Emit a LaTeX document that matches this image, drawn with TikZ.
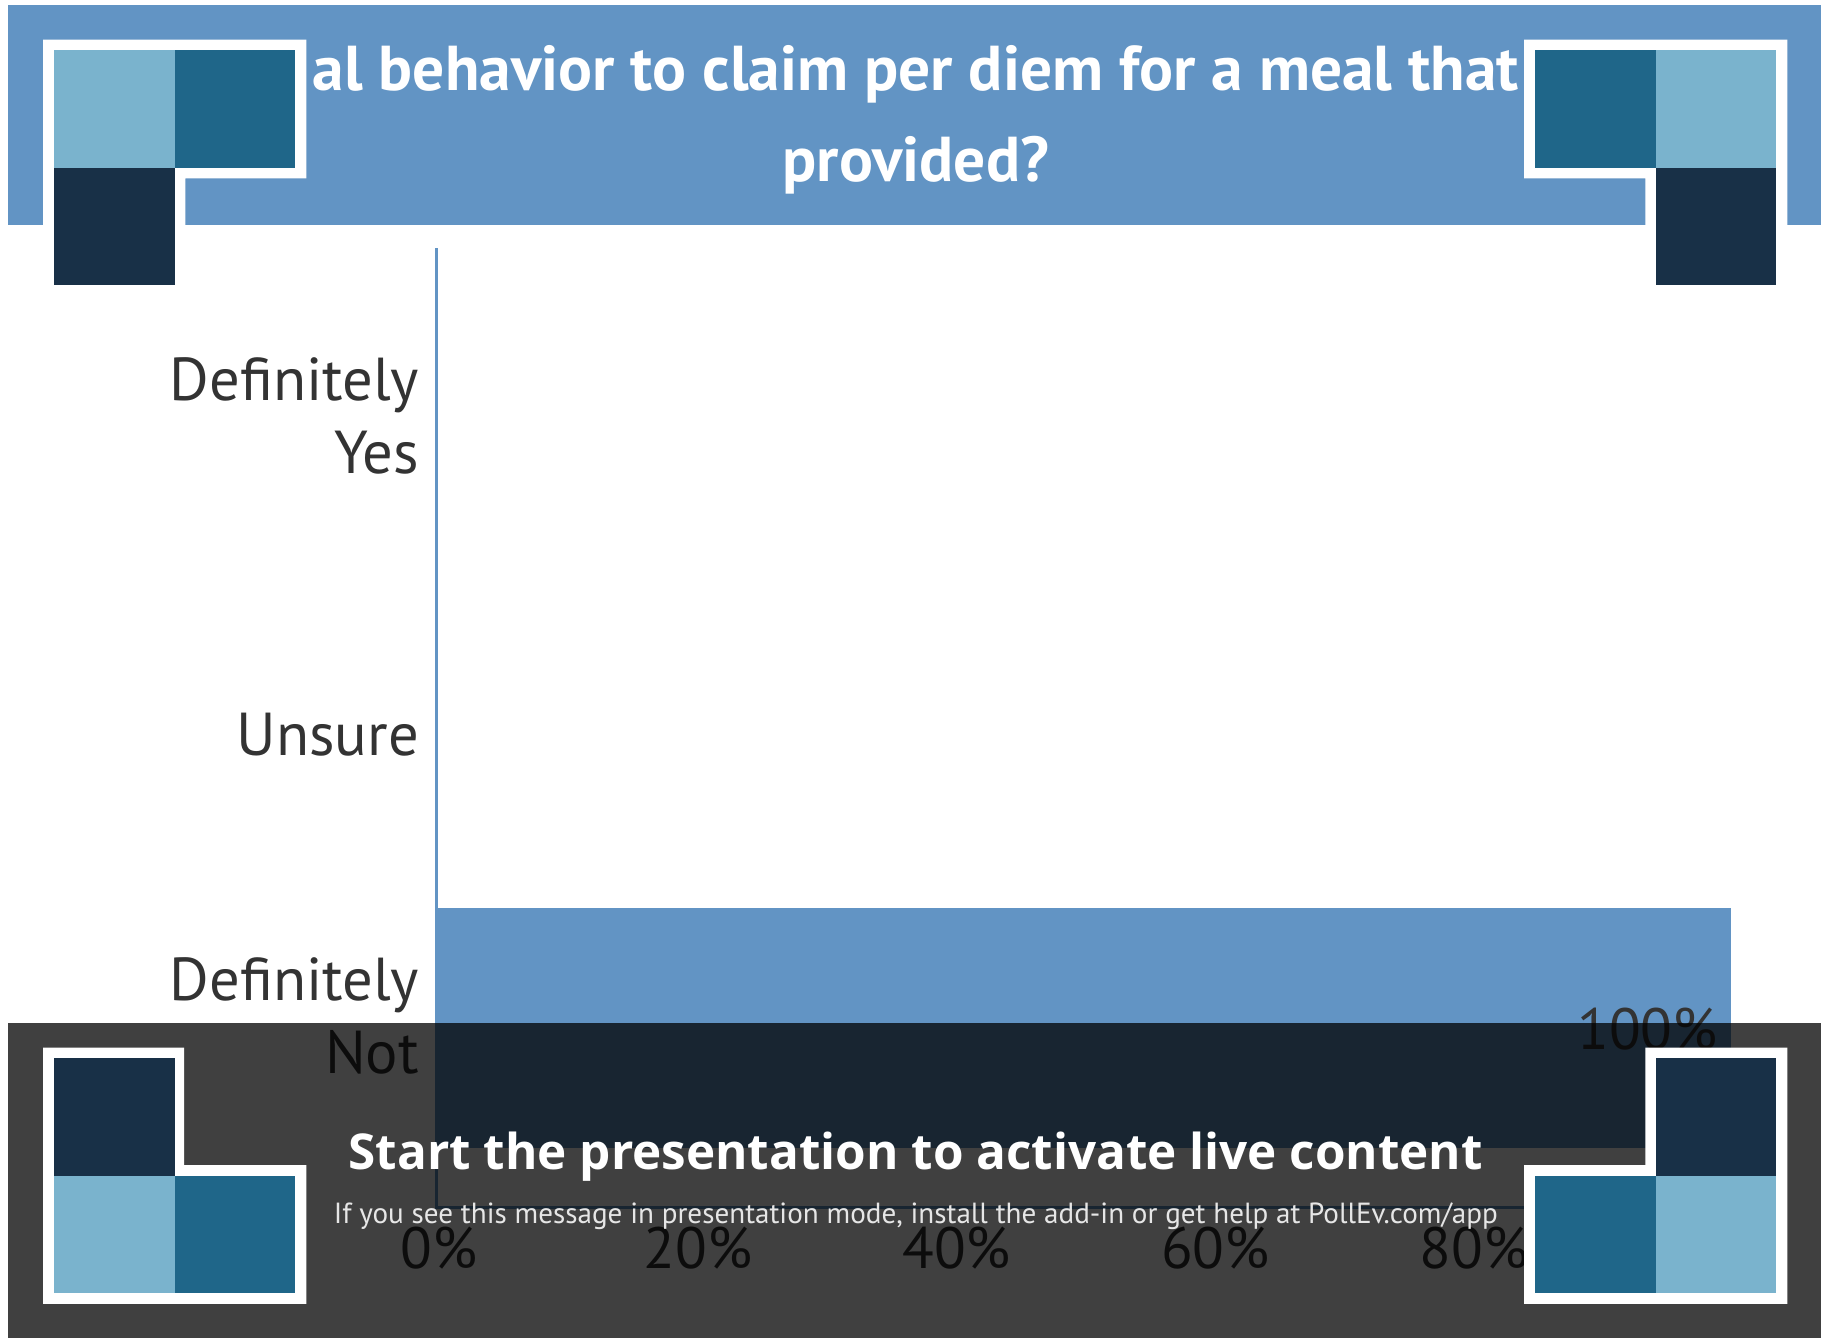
\documentclass[tikz,border=0pt]{standalone}
\usepackage{fontspec}
\setmainfont{PT Sans}
\newfontfamily\widesans{Open Sans}
\usepackage{tikz}

\definecolor{pollblue}{HTML}{6294C4}
\definecolor{sqlight}{HTML}{7AB3CD}
\definecolor{sqteal}{HTML}{1F6689}
\definecolor{sqnavy}{HTML}{183047}
\definecolor{labelgrey}{HTML}{333333}
\definecolor{notegrey}{HTML}{E6E6E6}

\begin{document}
\begin{tikzpicture}[x=0.5pt,y=0.5pt,yscale=-1,xscale=1,
  catlabel/.style={anchor=base east,inner sep=0pt,text=labelgrey,font=\fontsize{26}{30}\selectfont},
  ticklabel/.style={anchor=base,inner sep=0pt,text=labelgrey,font=\fontsize{25}{30}\selectfont},
  titleline/.style={anchor=base,inner sep=0pt,text=white,font=\fontsize{27.2}{32}\selectfont\bfseries}]
\useasboundingbox (0,0) rectangle (1568,1149);

%Shape: Rectangle [banner]
\fill[pollblue] (7,4) rectangle (1563,193);

% Text Node
\draw (786,78) node (title1) [titleline] {al behavior to claim per diem for a meal that};
% Text Node
\draw (786,156) node (title2) [titleline] {provided?};

%Shape: Polygon [top left frame]
\fill[white] (37,34) -- (263,34) -- (263,153) -- (159,153) -- (159,254) -- (37,254) -- cycle;
\fill[sqlight] (46,43) rectangle (150,144);
\fill[sqteal] (150,43) rectangle (253,144);
\fill[sqnavy] (46,144) rectangle (150,245);

%Shape: Polygon [top right frame]
\fill[white] (1308,34) -- (1534,34) -- (1534,254) -- (1412,254) -- (1412,153) -- (1308,153) -- cycle;
\fill[sqteal] (1317,43) rectangle (1421,144);
\fill[sqlight] (1421,43) rectangle (1524,144);
\fill[sqnavy] (1421,144) rectangle (1524,245);

%Straight Lines [axes]
\draw[pollblue,line width=1.3pt] (375,213) -- (375,1036) -- (1486,1036);

%Shape: Rectangle [bar]
\fill[pollblue] (375,779) rectangle (1486,985);

% Text Node
\draw (360,344) node (yes1) [catlabel] {Definitely};
% Text Node
\draw (360,406) node (yes2) [catlabel] {Yes};
% Text Node
\draw (360,648) node (unsure) [catlabel] {Unsure};
% Text Node
\draw (360,859) node (not1) [catlabel] {Definitely};
% Text Node
\draw (360,921) node (not2) [catlabel] {Not};
% Text Node
\draw (1414,901) node (value) [ticklabel] {100\%};

% Text Node
\draw (377,1089) node (tick0) [ticklabel] {0\%};
% Text Node
\draw (599,1089) node (tick20) [ticklabel] {20\%};
% Text Node
\draw (821,1089) node (tick40) [ticklabel] {40\%};
% Text Node
\draw (1043,1089) node (tick60) [ticklabel] {60\%};
% Text Node
\draw (1265,1089) node (tick80) [ticklabel] {80\%};

%Shape: Rectangle [overlay]
\fill[black,fill opacity=0.75] (7,878) rectangle (1563,1148);

%Shape: Polygon [bottom left frame]
\fill[white] (37,899) -- (158,899) -- (158,1000) -- (263,1000) -- (263,1119) -- (37,1119) -- cycle;
\fill[sqnavy] (46,908) rectangle (150,1009);
\fill[sqlight] (46,1009) rectangle (150,1110);
\fill[sqteal] (150,1009) rectangle (253,1110);

%Shape: Polygon [bottom right frame]
\fill[white] (1412,899) -- (1534,899) -- (1534,1119) -- (1308,1119) -- (1308,1000) -- (1412,1000) -- cycle;
\fill[sqnavy] (1421,908) rectangle (1524,1009);
\fill[sqteal] (1317,1009) rectangle (1421,1110);
\fill[sqlight] (1421,1009) rectangle (1524,1110);

% Text Node
\draw (786,1004) node (start) [anchor=base,inner sep=0pt,text=white,font=\widesans\fontsize{21.2}{25}\selectfont\bfseries] {Start the presentation to activate live content};
% Text Node
\draw (786,1050) node (note) [anchor=base,inner sep=0pt,text=notegrey,font=\fontsize{12.5}{15}\selectfont] {If you see this message in presentation mode, install the add-in or get help at PollEv.com/app};

\end{tikzpicture}
\end{document}
